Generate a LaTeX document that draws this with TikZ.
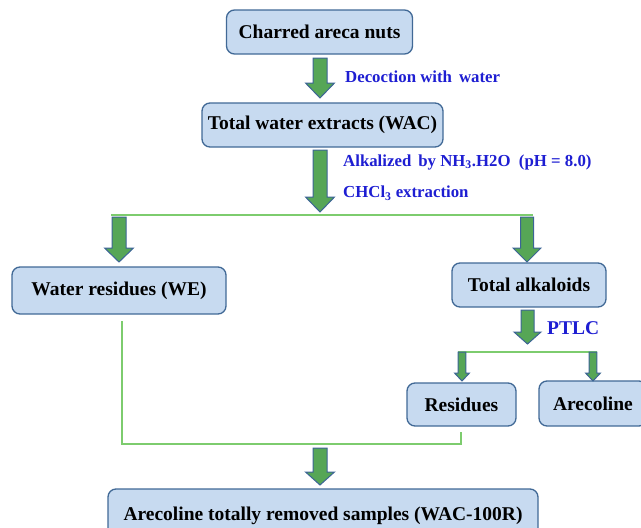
\documentclass[tikz,border=0pt]{standalone}
\usepackage{fontspec}
\setmainfont{Liberation Serif}
\definecolor{boxfill}{RGB}{199,218,240}
\definecolor{boxline}{RGB}{65,105,150}
\definecolor{arrfill}{RGB}{86,166,86}
\definecolor{arrline}{RGB}{60,100,150}
\definecolor{lnk}{RGB}{125,204,110}
\definecolor{lbl}{RGB}{30,30,210}
\newcommand\flowarrow[6]{%
  \draw[blockarrow] ({#1-#5},#2) -- ({#1+#5},#2) -- ({#1+#5},#3) -- ({#1+#6},#3)
    -- (#1,#4) -- ({#1-#6},#3) -- ({#1-#5},#3) -- cycle;}
\begin{document}
\begin{tikzpicture}[x=1pt,y=-1pt,
  stepbox/.style={draw=boxline, fill=boxfill, line width=1.3pt, rounded corners=8pt,
    inner sep=0pt, align=center, font=\bfseries\fontsize{19.5}{23}\selectfont},
  note/.style={text=lbl, anchor=west, inner sep=0pt, font=\bfseries\fontsize{16.8}{19}\selectfont},
  blockarrow/.style={draw=arrline, fill=arrfill, line width=1pt, line join=miter},
  link/.style={draw=lnk, line width=1.5pt}]
\useasboundingbox (0,0) rectangle (641,528);
\begin{scope}
\clip (0,0) rectangle (641,528);
% boxes
\node[stepbox, minimum width=186pt, minimum height=44pt] (n1) at (319.5,32) {Charred areca nuts};
\node[stepbox, minimum width=241pt, minimum height=44pt] (n2) at (322.5,125) {Total water extracts (WAC)};
\node[stepbox, minimum width=214pt, minimum height=47pt] (we) at (119,290.5) {Water residues (WE)};
\node[stepbox, minimum width=154pt, minimum height=44pt] (ta) at (529,285) {Total alkaloids};
\node[stepbox, minimum width=109pt, minimum height=43pt] (res) at (461.5,404.5) {Residues};
\node[stepbox, minimum width=108pt, minimum height=45pt] (are) at (593,403.5) {Arecoline};
\node[stepbox, minimum width=430pt, minimum height=54pt] (bot) at (323,516) {Arecoline totally removed samples (WAC-100R)};
% labels
\node[note] (l1) at (345,77) {Decoction with\ \,water};
\node[note] (l2) at (343,162) {Alkalized\ \,by NH\textsubscript{3}.H2O\ \ (pH = 8.0)};
\node[note] (l3) at (343,193) {CHCl\textsubscript{3} extraction};
\node[note, font=\bfseries\fontsize{19.5}{22}\selectfont] (l4) at (547,328) {PTLC};
% link lines
\coordinate (s1) at (111,215);
\coordinate (s2) at (533,215);
\draw[link] (s1) -- (s2);
\coordinate (p1) at (458,352);
\coordinate (p2) at (597,352);
\draw[link] (p1) -- (p2);
\coordinate (w1) at (122,321);
\coordinate (r1) at (461,432);
\draw[link] (w1) |- (r1|-0,444) -- (r1);
% block arrows
\flowarrow{320}{58}{83}{98}{7}{14.5}
\flowarrow{320}{150}{197}{212}{7}{14.5}
\flowarrow{119}{217}{248}{262}{7}{14.5}
\flowarrow{527}{217}{248}{262}{6.5}{14}
\flowarrow{527.5}{310}{332}{344}{6.5}{13.5}
\flowarrow{320}{448}{472}{485}{7}{14.5}
\flowarrow{462}{352}{373}{381}{3.8}{7.5}
\flowarrow{593}{352}{373}{381}{3.8}{7.5}
\end{scope}
\end{tikzpicture}
\end{document}
